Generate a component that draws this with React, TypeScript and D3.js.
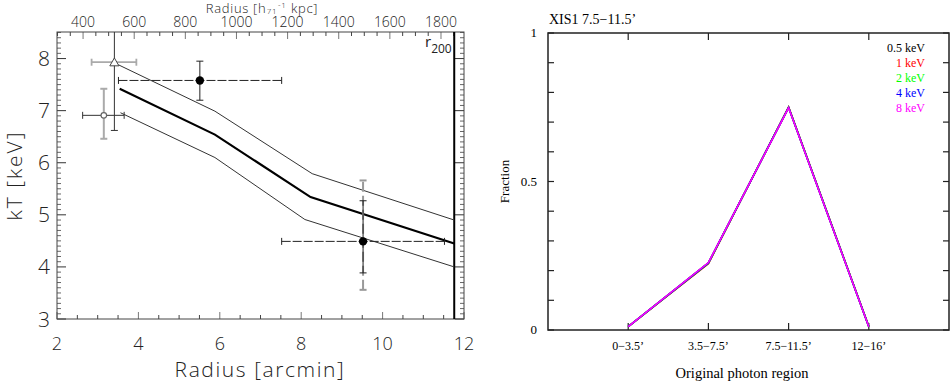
import React from "react";
import * as d3 from "d3";

// ---------- Left panel data ----------
const bottomTicks = [2, 4, 6, 8, 10, 12];
const leftTicks = [3, 4, 5, 6, 7, 8];
const topTicks = [400, 600, 800, 1000, 1200, 1400, 1600, 1800];
const r200 = 11.76;

const modelMid: [number, number][] = [[3.54, 7.42], [5.88, 6.54], [8.23, 5.34], [11.76, 4.45]];
const modelUp: [number, number][] = [[3.51, 7.88], [5.88, 6.99], [8.27, 5.79], [11.76, 4.9]];
const modelLo: [number, number][] = [[3.56, 6.96], [5.88, 6.1], [8.09, 4.91], [11.76, 4.0]];

// triangle point
const triPt = { x: 3.41, y: 7.93, xlo: 2.85, xhi: 3.95, ylo: 6.62, yhi: 9.0 };
// diamond point
const diaPt = { x: 3.15, y: 6.91, xlo: 2.63, xhi: 3.65, ylo: 6.46, yhi: 7.42 };
// filled circles
const suzaku = [
  { x: 5.51, y: 7.58, xlo: 3.51, xhi: 7.52, ylo: 7.2, yhi: 7.95, ylo2: null as number | null, yhi2: null as number | null },
  { x: 9.52, y: 4.49, xlo: 7.52, xhi: 11.52, ylo: 3.885, yhi: 5.27, ylo2: 3.56, yhi2: 5.66 },
];

// ---------- Right panel data ----------
const regions = ["0\u22123.5\u2019", "3.5\u22127.5\u2019", "7.5\u221211.5\u2019", "12\u221216\u2019"];
const energies = ["0.5 keV", "1 keV", "2 keV", "4 keV", "8 keV"];
const energyColors = ["#000000", "#ff0000", "#00ff00", "#0000ff", "#ff00ff"];
const frac05 = [0.011, 0.226, 0.749, 0.012];
const frac1 = [0.011, 0.223, 0.751, 0.012];
const frac2 = [0.011, 0.225, 0.750, 0.012];
const frac4 = [0.011, 0.226, 0.749, 0.011];
const frac8 = [0.011, 0.227, 0.748, 0.011];
const fractions = [frac05, frac1, frac2, frac4, frac8];
const fracTicks = [0, 0.5, 1];

const SANS = "'Open Sans', 'DejaVu Sans', sans-serif";
const SERIF = "'Liberation Serif', 'DejaVu Serif', serif";

function LeftPanel() {
  const L = 57, R = 464, T = 32, B = 319;
  const x = d3.scaleLinear().domain([2, 12]).range([L, R]);
  const y = d3.scaleLinear().domain([3, 8.51]).range([B, T]);
  const xk = d3.scaleLinear().domain([298, 1890]).range([L, R]);
  const line = d3.line<[number, number]>().x((d) => x(d[0])).y((d) => y(d[1]));

  const yMinor = d3.range(30, 86).map((v) => v / 10);
  const xMinor = d3.range(4, 25).map((v) => v / 2);
  const kMinor = d3.range(300, 1900, 50);

  const cap = 3.5;
  const errH = (xlo: number, xhi: number, yv: number, stroke: string, sw: number, dash?: string) => (
    <g>
      <line x1={x(xlo)} x2={x(xhi)} y1={y(yv)} y2={y(yv)} stroke={stroke} strokeWidth={sw} strokeDasharray={dash} />
      <line x1={x(xlo)} x2={x(xlo)} y1={y(yv) - cap} y2={y(yv) + cap} stroke={stroke} strokeWidth={sw} />
      <line x1={x(xhi)} x2={x(xhi)} y1={y(yv) - cap} y2={y(yv) + cap} stroke={stroke} strokeWidth={sw} />
    </g>
  );
  const errV = (xv: number, ylo: number, yhi: number, stroke: string, sw: number, dash?: string, capTop = true) => (
    <g>
      <line x1={x(xv)} x2={x(xv)} y1={y(ylo)} y2={Math.max(y(yhi), T)} stroke={stroke} strokeWidth={sw} strokeDasharray={dash} />
      <line x1={x(xv) - cap} x2={x(xv) + cap} y1={y(ylo)} y2={y(ylo)} stroke={stroke} strokeWidth={sw} />
      {capTop && <line x1={x(xv) - cap} x2={x(xv) + cap} y1={y(yhi)} y2={y(yhi)} stroke={stroke} strokeWidth={sw} />}
    </g>
  );

  return (
    <g>
      <defs>
        <clipPath id="lclip">
          <rect x={L} y={T} width={R - L} height={B - T} />
        </clipPath>
      </defs>
      {/* ticks */}
      {yMinor.map((v) => {
        const major = Math.abs(v - Math.round(v)) < 1e-6;
        const len = major ? 9 : 4;
        return (
          <g key={"yt" + v}>
            <line x1={L} x2={L + len} y1={y(v)} y2={y(v)} stroke={major ? "#333" : "#666"} strokeWidth={1} />
            <line x1={R} x2={R - len} y1={y(v)} y2={y(v)} stroke={major ? "#333" : "#666"} strokeWidth={1} />
          </g>
        );
      })}
      {xMinor.map((v) => {
        const major = Math.abs(v / 2 - Math.round(v / 2)) < 1e-6;
        const len = major ? 7 : 4;
        return <line key={"xt" + v} x1={x(v)} x2={x(v)} y1={B} y2={B - len} stroke={major ? "#777" : "#444"} strokeWidth={1} />;
      })}
      {kMinor.map((v) => {
        const major = v % 200 === 0;
        const len = major ? 7 : 4;
        return <line key={"kt" + v} x1={xk(v)} x2={xk(v)} y1={T} y2={T + len} stroke={major ? "#777" : "#444"} strokeWidth={1} />;
      })}
      <rect x={L} y={T} width={R - L} height={B - T} fill="none" stroke="#444" strokeWidth={1} />

      {/* labels */}
      {leftTicks.map((v) => (
        <text key={"yl" + v} x={L - 7} y={y(v) + 7.5} textAnchor="end" fontFamily={SANS} fontWeight={300} fontSize={21} fill="#222">
          {v}
        </text>
      ))}
      {bottomTicks.map((v) => (
        <text key={"xl" + v} x={x(v)} y={350} textAnchor="middle" fontFamily={SANS} fontWeight={300} fontSize={18} fill="#222">
          {v}
        </text>
      ))}
      {topTicks.map((v) => (
        <text key={"kl" + v} x={xk(v)} y={26.5} textAnchor="middle" fontFamily={SANS} fontWeight={300} fontSize={14} fill="#222">
          {v}
        </text>
      ))}
      <text x={260} y={377} textAnchor="middle" fontFamily={SANS} fontWeight={300} fontSize={21} letterSpacing={1.6} fill="#222">
        Radius [arcmin]
      </text>
      <text transform={`translate(22,${(T + B) / 2}) rotate(-90)`} textAnchor="middle" fontFamily={SANS} fontWeight={300} fontSize={21} letterSpacing={2} fill="#222">
        kT [keV]
      </text>
      <text x={262} y={12.5} textAnchor="middle" fontFamily={SANS} fontWeight={300} fontSize={13} letterSpacing={0.7} fill="#222">
        <tspan>Radius [h</tspan>
        <tspan fontSize={8} dy={1} dx={0.5}>71</tspan>
        <tspan fontSize={8} dy={-5.5} dx={0.5}>-1</tspan>
        <tspan dy={4.5} dx={0.5}> kpc]</tspan>
      </text>
      <text x={425} y={47} fontFamily={SANS} fontWeight={400} fontSize={15} fill="#222">
        r<tspan fontSize={12} dy={6}>200</tspan>
      </text>

      {/* r200 line */}
      <line x1={x(r200)} x2={x(r200)} y1={T} y2={B} stroke="#000" strokeWidth={2} />

      <g clipPath="url(#lclip)">
        {/* model lines */}
        <path d={line(modelUp) ?? ""} fill="none" stroke="#333" strokeWidth={1} />
        <path d={line(modelLo) ?? ""} fill="none" stroke="#333" strokeWidth={1} />
        <path d={line(modelMid) ?? ""} fill="none" stroke="#000" strokeWidth={2.2} />

        {/* triangle */}
        {errH(triPt.xlo, triPt.xhi, triPt.y, "#aaa", 1.8)}
        {errV(triPt.x, triPt.ylo, triPt.yhi, "#333", 1, undefined, false)}
        <path
          d={d3.symbol(d3.symbolTriangle, 36)() ?? ""}
          transform={`translate(${x(triPt.x)},${y(triPt.y) + 1})`}
          fill="#fff"
          stroke="#444"
          strokeWidth={1}
        />

        {/* diamond */}
        {errH(diaPt.xlo, diaPt.xhi, diaPt.y, "#333", 1)}
        {errV(diaPt.x, diaPt.ylo, diaPt.yhi, "#aaa", 2)}
        <circle cx={x(diaPt.x)} cy={y(diaPt.y)} r={2.8} fill="#fff" stroke="#666" strokeWidth={1.2} />

        {/* suzaku */}
        {suzaku.map((p, i) => (
          <g key={"s" + i}>
            {errH(p.xlo, p.xhi, p.y, "#222", 1, "9,2")}
            {p.ylo2 !== null && p.yhi2 !== null && errV(p.x, p.ylo2, p.yhi2, "#999", 2, "10,4")}
            {errV(p.x, p.ylo, p.yhi, "#222", 1)}
            <circle cx={x(p.x)} cy={y(p.y)} r={4.2} fill="#000" />
          </g>
        ))}
      </g>
    </g>
  );
}

function RightPanel() {
  const L = 548, R = 949, T = 33, B = 330;
  const x = d3.scaleLinear().domain([0, 5]).range([L, R]);
  const y = d3.scaleLinear().domain([0, 1]).range([B, T]);
  const line = d3.line<number>().x((_, i) => x(i + 1)).y((d) => y(d));
  const yMinor = d3.range(0, 11).map((v) => v / 10);

  return (
    <g>
      {yMinor.map((v) => (
        <g key={"ry" + v}>
          <line x1={L} x2={L + 6} y1={y(v)} y2={y(v)} stroke="#222" strokeWidth={1.2} />
          <line x1={R} x2={R - 6} y1={y(v)} y2={y(v)} stroke="#222" strokeWidth={1.2} />
        </g>
      ))}
      {regions.map((r, i) => (
        <g key={"rx" + i}>
          <line x1={x(i + 1)} x2={x(i + 1)} y1={B} y2={B - 7} stroke="#222" strokeWidth={1.2} />
          <line x1={x(i + 1)} x2={x(i + 1)} y1={T} y2={T + 7} stroke="#222" strokeWidth={1.2} />
          <text x={x(i + 1)} y={350} textAnchor="middle" fontFamily={SERIF} fontSize={12} fill="#000">
            {r}
          </text>
        </g>
      ))}
      <rect x={L} y={T} width={R - L} height={B - T} fill="none" stroke="#222" strokeWidth={1.5} />

      {fracTicks.map((v) => (
        <text key={"fl" + v} x={L - 11} y={y(v) + 4} textAnchor="end" fontFamily={SERIF} fontSize={13} fill="#000">
          {v}
        </text>
      ))}
      <text x={L + 1} y={24} fontFamily={SERIF} fontSize={14} fill="#000">
        XIS1 7.5{"\u2212"}11.5{"\u2019"}
      </text>
      <text x={742} y={378} textAnchor="middle" fontFamily={SERIF} fontSize={14.5} fill="#000">
        Original photon region
      </text>
      <text transform={`translate(509,${(T + B) / 2}) rotate(-90)`} textAnchor="middle" fontFamily={SERIF} fontSize={13} fill="#000">
        Fraction
      </text>

      {fractions.map((f, i) => (
        <path key={"fr" + i} d={line(f) ?? ""} fill="none" stroke={energyColors[i]} strokeWidth={1.6} />
      ))}

      {energies.map((e, i) => (
        <text key={"lg" + i} x={925} y={52 + i * 15} textAnchor="end" fontFamily={SERIF} fontSize={12} fill={energyColors[i]}>
          {e}
        </text>
      ))}
    </g>
  );
}

export default function App() {
  return (
    <svg width={950} height={384} style={{ position: "absolute", left: 0, top: 0, background: "#fff" }}>
      <rect width={950} height={384} fill="#fff" />
      <LeftPanel />
      <RightPanel />
    </svg>
  );
}
